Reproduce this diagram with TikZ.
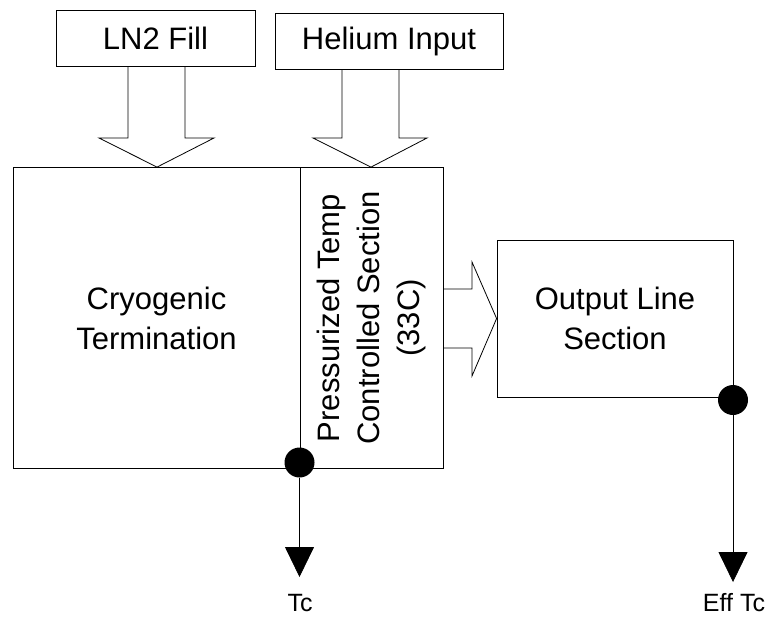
\documentclass[tikz,border=0pt]{standalone}
\usepackage{fontspec}
\setmainfont{Liberation Sans}
\usetikzlibrary{arrows.meta, positioning}

\begin{document}
\begin{tikzpicture}[
    x=1pt, y=-1pt,
    line width=0.8pt,
    every node/.style={font=\fontsize{31}{40}\selectfont},
    box/.style={draw, inner sep=0pt, align=center},
    fat/.style={line join=miter},
    junction/.style={circle, fill=black, minimum size=30pt, inner sep=0pt},
    probe/.style={-{Triangle[length=30pt, width=29pt]}},
    tag/.style={font=\fontsize{25}{30}\selectfont},
]
\useasboundingbox (0,0) rectangle (767,618);

% Sections
\node[box, minimum width=287pt, minimum height=301pt] (cryo) at (156.5,318) {Cryogenic\\Termination};
\node[box, minimum width=143pt, minimum height=301pt] (press) at (371.5,318) {};
\node[rotate=90, align=center] at (press.center) {Pressurized Temp\\Controlled Section\\(33C)};
\node[box, minimum width=236pt, minimum height=157pt] (out) at (615,318.5) {Output Line\\Section};

% Inputs
\node[box, minimum width=199pt, minimum height=56pt] (ln2) at (155.5,38) {LN2 Fill};
\node[box, minimum width=228pt, minimum height=56pt] (he) at (389,41) {Helium Input};

% Block arrows
\draw[fat] (128,0 |- ln2.south) -- (128,138) -- (99,138) -- (157,0 |- cryo.north)
    -- (214,138) -- (185,138) -- (185,0 |- ln2.south);
\draw[fat] (342,0 |- he.south) -- (342,138) -- (313,138) -- (371,0 |- press.north)
    -- (427,138) -- (399,138) -- (399,0 |- he.south);
\draw[fat] (press.east |- 0,289) -- (472,289) -- (472,262) -- (out.west)
    -- (472,376) -- (472,348) -- (press.east |- 0,348);

% Temperature taps
\node[junction] (tcdot) at (299.5,462.5) {};
\node[junction] (effdot) at (733,400) {};
\coordinate (tctip) at (299.5,577);
\coordinate (efftip) at (733,582);
\draw[probe] (tcdot) -- (tctip);
\draw[probe] (effdot) -- (efftip);
\node[tag] (tc) at (300,603) {Tc};
\node[tag] (efftc) at (734,603) {Eff Tc};

\end{tikzpicture}
\end{document}
